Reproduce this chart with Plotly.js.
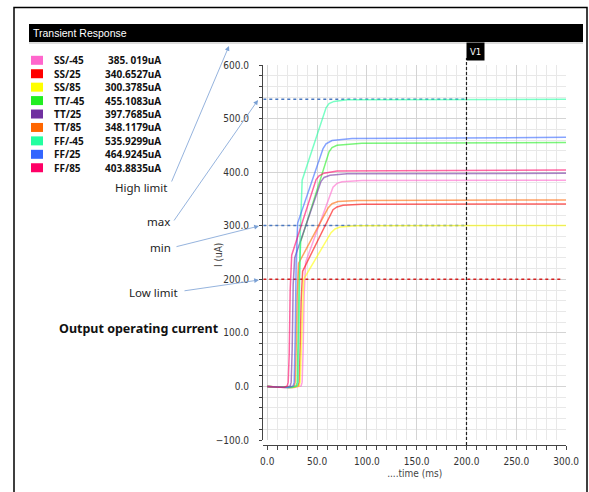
<!DOCTYPE html>
<html>
<head>
<meta charset="utf-8">
<script src="https://cdn.plot.ly/plotly-3.0.1.min.js"></script>
<style>html,body{margin:0;padding:0;background:#fff;}#chart{width:589px;height:492px;}</style>
</head>
<body>
<div id="chart"></div>
<script>
// ---- data ----
const seriesNames = ['SS/-45','SS/25','SS/85','TT/-45','TT/25','TT/85','FF/-45','FF/25','FF/85'];
const valueLabels = ['385. 019uA','340.6527uA','300.3785uA','455.1083uA','397.7685uA','348.1179uA','535.9299uA','464.9245uA','403.8835uA'];
const seriesColors = ['#ff66cc','#ff0000','#ffff00','#22ee22','#7030a0','#ff6600','#22ffa0','#3366ff','#ff0066'];

const tSSm45 = [0,27,34,35,36,37,38.5,66,70,75,95,300];
const iSSm45 = [0,-2,1,8,70,170,232,372,379,382,384.5,385.02];
const tSS25  = [0,25,31,32,33,34,35.5,66,70,76,95,300];
const iSS25  = [0,-2,1,8,70,160,215,330,335,338,340,340.65];
const tSS85  = [0,26,32,33,34,35,36.5,64,68,73,90,300];
const iSS85  = [0,-2,1,8,60,140,200,287,294,297.5,300,300.38];
const tTTm45 = [0,23,29,30,31,32,33.5,62,65,70,95,300];
const iTTm45 = [0,-2,1,8,90,200,270,438,446,450,454,455.11];
const tTT25  = [0,19,23,24,25,26,27.5,54,57,63,80,300];
const iTT25  = [0,-2,1,8,70,190,240,383,390,394,397,397.77];
const tTT85  = [0,22,27,28,29,30,31.5,61,65,71,90,300];
const iTT85  = [0,-2,1,8,70,170,230,333,341,345,347,348.12];
const tFFm45 = [0,24,30,31,32,33,35,59,62,67,80,300];
const iFFm45 = [0,-2,1,8,120,280,385,520,528,532,535,535.93];
const tFF25  = [0,21,26,27,28,29,30.5,56,59,65,85,300];
const iFF25  = [0,-2,1,8,90,230,305,444,453,459,463,464.92];
const tFF85  = [0,17,20,21,22,23,24.5,49,52,57,70,300];
const iFF85  = [0,-2,1,8,60,180,245,386,393,398,402,403.88];

const seriesT = [tSSm45,tSS25,tSS85,tTTm45,tTT25,tTT85,tFFm45,tFF25,tFF85];
const seriesI = [iSSm45,iSS25,iSS85,iTTm45,iTT25,iTT85,iFFm45,iFF25,iFF85];

const cursorT = 200;          // V1 cursor
const maxLevel = 535.93;      // max
const minLevel = 300.38;      // min
const lowLimit = 200;         // Low limit
const xRange = [-4, 300];
const yRange = [-100, 600];
const lowLimitEnd = 296;

// ---- helpers (pixel -> paper) ----
const W = 589, H = 492;
const px = p => p / W;
const py = p => 1 - p / H;

const traces = [];
// reference lines
traces.push({x:[xRange[0], cursorT], y:[maxLevel, maxLevel], mode:'lines', line:{color:'#4a78c0', width:1.5, dash:'dot'}, hoverinfo:'skip'});
traces.push({x:[xRange[0], cursorT], y:[minLevel, minLevel], mode:'lines', line:{color:'#4a78c0', width:1.5, dash:'dot'}, hoverinfo:'skip'});
traces.push({x:[xRange[0], lowLimitEnd], y:[lowLimit, lowLimit], mode:'lines', line:{color:'#d42020', width:1.5, dash:'dot'}, hoverinfo:'skip'});

for (let i = 0; i < seriesNames.length; i++) {
  traces.push({
    x: seriesT[i], y: seriesI[i], name: seriesNames[i], mode: 'lines',
    line: {color: seriesColors[i], width: 1.5},
    opacity: 0.6
  });
}

const shapes = [];
const annotations = [];

// outer frame
shapes.push({type:'rect', xref:'paper', yref:'paper', x0:px(14), x1:px(587), y0:-0.05, y1:py(7.5), line:{color:'#000', width:1.5}, fillcolor:'rgba(0,0,0,0)'});
// title bar
shapes.push({type:'rect', xref:'paper', yref:'paper', x0:px(29), x1:px(583), y0:py(42), y1:py(24), line:{width:0}, fillcolor:'#000'});
shapes.push({type:'line', xref:'paper', yref:'paper', x0:px(29), x1:px(583), y0:py(43), y1:py(43), line:{color:'#bbb', width:1}});
annotations.push({xref:'paper', yref:'paper', x:px(31), y:py(33), xanchor:'left', yanchor:'middle', text:'Transient Response', showarrow:false, font:{family:'Liberation Sans, Arial', size:10.5, color:'#fff'}});

// V1 cursor
shapes.push({type:'line', xref:'x', yref:'paper', x0:cursorT, x1:cursorT, y0:py(445), y1:py(58), line:{color:'#222', width:1.2, dash:'3px,2px'}});
annotations.push({xref:'x', yref:'paper', x:cursorT, y:py(51.5), xanchor:'left', yanchor:'middle', text:'V1', showarrow:false, bgcolor:'#000', borderpad:3, font:{family:'DejaVu Sans Condensed, DejaVu Sans', size:9.5, color:'#fff'}});

// custom legend
for (let i = 0; i < seriesNames.length; i++) {
  const cy = 60.3 + i * 13.43;
  shapes.push({type:'rect', xref:'paper', yref:'paper', x0:px(31), x1:px(43), y0:py(cy+4.5), y1:py(cy-4.5), line:{width:0}, fillcolor:seriesColors[i]});
  annotations.push({xref:'paper', yref:'paper', x:px(52), y:py(cy), xanchor:'left', yanchor:'middle', text:'<b>'+seriesNames[i]+'</b>', showarrow:false, font:{family:'Noto Sans', size:10, color:'#111'}});
  annotations.push({xref:'paper', yref:'paper', x:px(163), y:py(cy), xanchor:'right', yanchor:'middle', text:'<b>'+valueLabels[i]+'</b>', showarrow:false, font:{family:'Noto Sans', size:10, color:'#111'}});
}

// callout arrows (head, tail in px)
const arrows = [
  {head:[229,46],  tail:[171,183]},
  {head:[258,100], tail:[173,222]},
  {head:[259,226], tail:[175,247]},
  {head:[259,280], tail:[183,291]}
];
arrows.forEach(a => {
  annotations.push({xref:'paper', yref:'paper', x:px(a.head[0]), y:py(a.head[1]), ax:a.tail[0]-a.head[0], ay:a.tail[1]-a.head[1], text:'', showarrow:true, arrowhead:2, arrowsize:1.2, arrowwidth:0.8, arrowcolor:'#7aa0d4'});
});
const calloutLabels = [
  {t:'High limit', x:141, y:187},
  {t:'max', x:158, y:222},
  {t:'min', x:160, y:247},
  {t:'Low limit', x:153, y:292}
];
calloutLabels.forEach(c => {
  annotations.push({xref:'paper', yref:'paper', x:px(c.x), y:py(c.y), xanchor:'center', yanchor:'middle', text:c.t, showarrow:false, font:{family:'Noto Sans', size:11.5, color:'#222'}});
});
annotations.push({xref:'paper', yref:'paper', x:px(139), y:py(328), xanchor:'center', yanchor:'middle', text:'<b>Output operating current</b>', showarrow:false, font:{family:'Noto Sans', size:12.5, color:'#111'}});
// y axis title
annotations.push({xref:'paper', yref:'paper', x:px(218), y:py(255), xanchor:'center', yanchor:'middle', textangle:-90, text:'I (uA)', showarrow:false, font:{family:'DejaVu Sans Condensed, DejaVu Sans', size:10, color:'#444'}});

const tickFont = {family:'DejaVu Sans Condensed, DejaVu Sans', size:10, color:'#333'};

const layout = {
  width: W, height: H,
  margin: {l:0, r:0, t:0, b:0, pad:0},
  paper_bgcolor: '#fff', plot_bgcolor: '#fff',
  showlegend: false,
  xaxis: {
    domain: [px(263.3), px(566.1)], range: xRange,
    anchor: 'free', position: py(445),
    showline: true, linecolor: '#444', linewidth: 1,
    ticks: 'outside', ticklen: 4, tickcolor: '#444', tickwidth: 1,
    dtick: 50, tick0: 0, tickformat: '.1f', tickfont: tickFont, ticklabelstandoff: 3,
    showgrid: true, gridcolor: '#d4d4d4', gridwidth: 1,
    minor: {dtick: 10, tick0: 0, ticks: 'outside', ticklen: 4, tickcolor: '#444', showgrid: true, gridcolor: '#e8e8e8', gridwidth: 1},
    zeroline: false,
    title: {text: '....time (ms)', font: {family:'DejaVu Sans Condensed, DejaVu Sans', size:10, color:'#444'}, standoff: 3}
  },
  yaxis: {
    domain: [py(440), py(65)], range: yRange,
    anchor: 'free', position: px(262),
    showline: true, linecolor: '#444', linewidth: 1,
    ticks: 'outside', ticklen: 3, tickcolor: '#444', tickwidth: 1,
    dtick: 100, tick0: 0, tickformat: '.1f', tickfont: tickFont, ticklabelstandoff: 8,
    showgrid: true, gridcolor: '#d4d4d4', gridwidth: 1,
    minor: {dtick: 20, tick0: 0, ticks: 'outside', ticklen: 3, tickcolor: '#444', showgrid: true, gridcolor: '#e8e8e8', gridwidth: 1},
    zeroline: false
  },
  shapes: shapes,
  annotations: annotations
};

Plotly.newPlot('chart', traces, layout, {staticPlot: true, displayModeBar: false});
</script>
</body>
</html>
